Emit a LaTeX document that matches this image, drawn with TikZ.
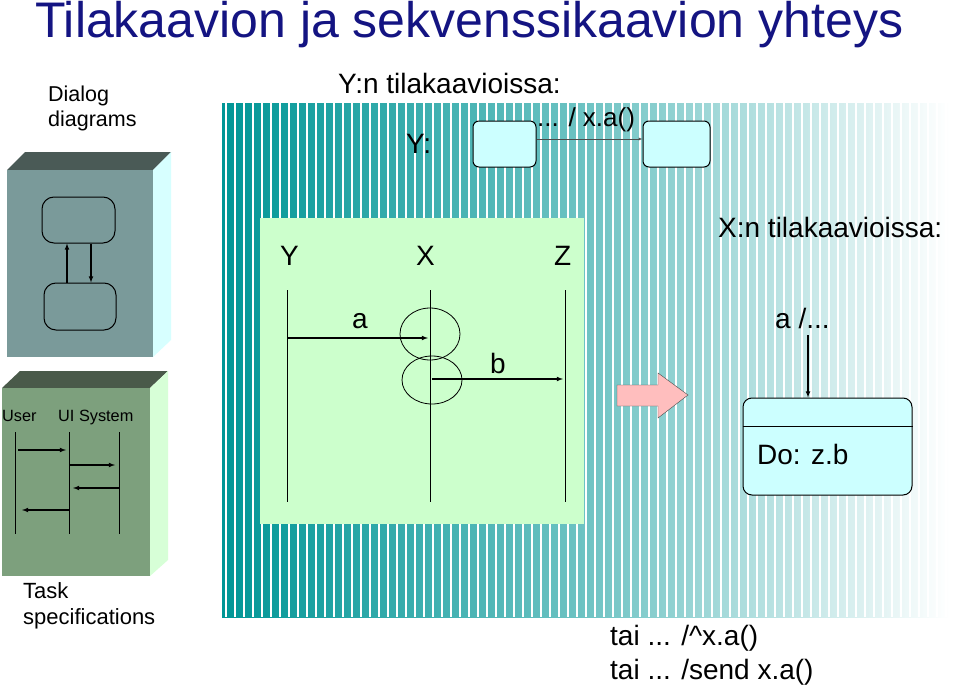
\documentclass[tikz,border=0pt]{standalone}
\usepackage{fontspec}
\setmainfont{Liberation Sans}
\usetikzlibrary{shapes,arrows,shapes.arrows,positioning}
\definecolor{deepteal}{RGB}{0,150,150}
\definecolor{midteal}{RGB}{110,195,195}
\definecolor{statefill}{RGB}{204,255,255}
\definecolor{seqfill}{RGB}{204,255,204}
\definecolor{titleblue}{RGB}{20,20,130}

\begin{document}
\begin{tikzpicture}[x=1pt,y=-1pt]
    \tikzset{
        state/.style = {rectangle, draw=black, fill=statefill, line width=1pt, rounded corners=6pt, inner sep=0pt},
        line/.style = {draw=black, line width=1.1pt, -latex},
        thinline/.style = {draw=black, thin, -latex},
        label/.style = {inner sep=0pt, anchor=base west, font=\fontsize{28}{28}\selectfont},
        small/.style = {inner sep=0pt, anchor=base west, font=\fontsize{26}{26}\selectfont},
    }
    \useasboundingbox (0,0) rectangle (959,685);
    \fill[white] (0,0) rectangle (959,685);

    \node[inner sep=0pt, anchor=base west, text=titleblue, font=\fontsize{50}{50}\selectfont](title) at (35,38){Tilakaavion ja sekvenssikaavion yhteys};

    % striped background
    \shade[left color=deepteal, right color=white, middle color=midteal] (222,103) rectangle (950,617);
    \foreach \x in {226,235,...,950}
        \draw[white, line width=1.2pt] (\x,103) -- (\x,617);

    % dialog diagram block
    \fill[fill={rgb,255:red,74;green,90;blue,86}] (7,170) -- (25,152) -- (171,152) -- (153,170) -- cycle;
    \fill[fill={rgb,255:red,215;green,255;blue,255}] (153,170) -- (171,152) -- (171,340) -- (153,357) -- cycle;
    \fill[fill={rgb,255:red,122;green,154;blue,154}] (7,170) rectangle (153,357);
    \node[small, anchor=north west, align=left, font=\fontsize{21.5}{25}\selectfont](dialog) at (48,86){Dialog\\diagrams};
    \node[state, fill=none, minimum width=73pt, minimum height=46pt, rounded corners=12pt](d1) at (78.5,220){};
    \node[state, fill=none, minimum width=72pt, minimum height=47pt, rounded corners=12pt](d2) at (80,306.5){};
    \draw[line] (d2.north -| 67,0) -- (d1.south -| 67,0);
    \draw[line] (d1.south -| 91,0) -- (d2.north -| 91,0);

    % task block
    \fill[fill={rgb,255:red,74;green,90;blue,74}] (2,388) -- (20,371) -- (168,371) -- (150,388) -- cycle;
    \fill[fill={rgb,255:red,215;green,255;blue,215}] (150,388) -- (168,371) -- (168,560) -- (150,576) -- cycle;
    \fill[fill={rgb,255:red,125;green,160;blue,125}] (2,388) rectangle (150,576);
    \node[small, font=\fontsize{16.3}{16}\selectfont](user) at (2,421){User};
    \node[small, font=\fontsize{16.3}{16}\selectfont](uisys) at (58,421){UI System};
    \coordinate (l1) at (15,432); \coordinate (l2) at (69,432); \coordinate (l3) at (119,432);
    \foreach \c in {l1,l2,l3}
        \draw[line width=0.8pt] (\c) -- ++(0,102);
    \draw[line] (18,450) -- (66,450);
    \draw[line] (69,465) -- (115,465);
    \draw[line] (119,488) -- (73,488);
    \draw[line] (69,510) -- (22,510);
    \node[small, anchor=north west, align=left, font=\fontsize{22}{26}\selectfont](task) at (23,582){Task\\specifications};

    % Y state diagram
    \node[label](ytitle) at (338,93){Y:n tilakaavioissa:};
    \node[label](ylab) at (406,153){Y:};
    \node[state, minimum width=63pt, minimum height=46pt](s1) at (504.5,144){};
    \node[state, minimum width=67pt, minimum height=46pt](s2) at (676.5,144){};
    \draw[thinline, draw=gray!60!black] (s1.east |- 0,139) -- (s2.west |- 0,139);
    \node[small](trans) at (537,126){... / x.a()};

    % sequence diagram
    \fill[seqfill] (260,218) rectangle (584,524);
    \node[label](Y) at (280,265){Y};
    \node[label](X) at (416,265){X};
    \node[label](Z) at (554,265){Z};
    \coordinate (ly) at (287,290); \coordinate (lx) at (430,290); \coordinate (lz) at (565,290);
    \draw[line width=0.8pt] (ly) -- ++(0,212);
    \draw[line width=0.8pt] (lx) -- ++(0,212);
    \draw[line width=0.8pt] (lz) -- ++(0,212);
    \draw[line width=0.8pt] (430,334) ellipse (30 and 26);
    \draw[line width=0.8pt] (432,380) ellipse (30 and 24);
    \draw[line] (287,338) -- (428,338);
    \node[label](alab) at (352,328){a};
    \draw[line] (432,379) -- (563,379);
    \node[label](blab) at (490,373){b};

    % big arrow
    \draw[black!70, thin, fill={rgb,255:red,255;green,190;blue,190}] (617,385) -- (658,385) -- (658,373) -- (688,395) -- (658,418) -- (658,406) -- (617,406) -- cycle;

    % X state diagram
    \node[label](xtitle) at (718,237){X:n tilakaavioissa:};
    \node[label](evt) at (775,328){a /...};
    \node[state, minimum width=169pt, minimum height=97pt, rounded corners=9pt](xstate) at (827.5,446.5){};
    \draw[line width=1pt] (xstate.west |- 0,426) -- (xstate.east |- 0,426);
    \node[label](dolab) at (757,464){Do: z.b};
    \coordinate (evtend) at (808,335);
    \draw[line] (evtend) -- (xstate.north -| evtend);

    \node[label](tai1) at (610,645){tai ... /\^{}x.a()};
    \node[label](tai2) at (610,679){tai ... /send x.a()};
\end{tikzpicture}
\end{document}
